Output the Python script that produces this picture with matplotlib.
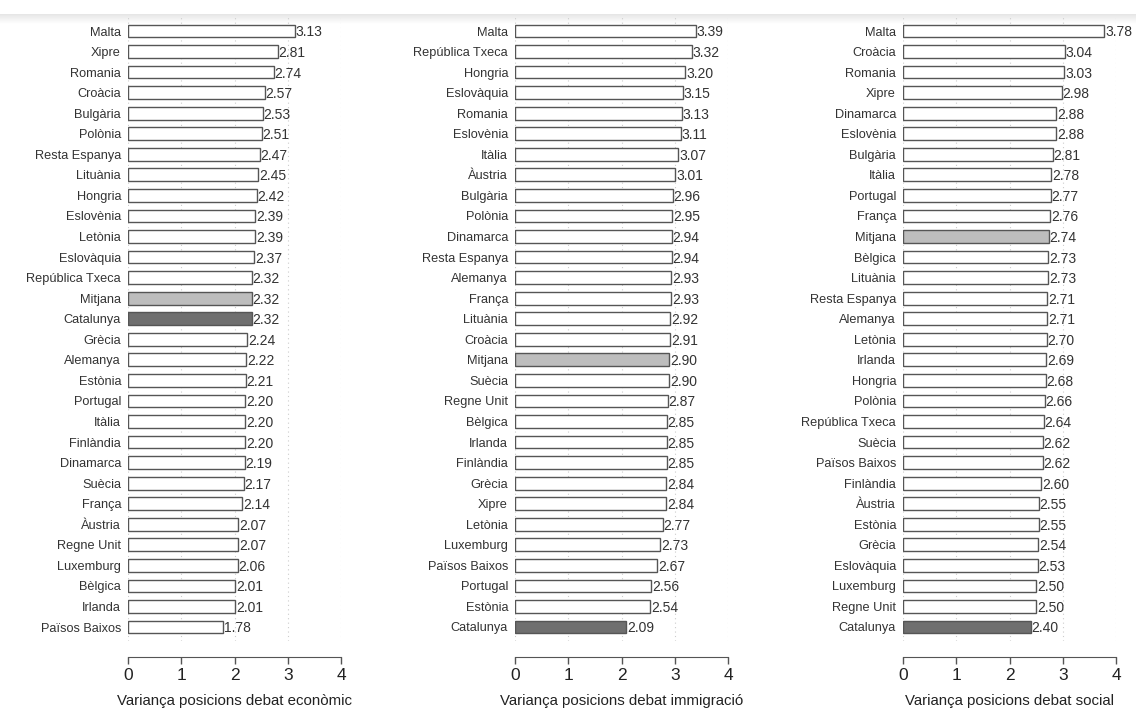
import numpy as np
import matplotlib
matplotlib.use("Agg")
import matplotlib.pyplot as plt

plt.rcParams['font.family'] = ['Liberation Sans', 'DejaVu Sans']

# Variància de posicions per país, tres debats
eco_labels = ['Malta', 'Xipre', 'Romania', 'Croàcia', 'Bulgària', 'Polònia',
              'Resta Espanya', 'Lituània', 'Hongria', 'Eslovènia', 'Letònia',
              'Eslovàquia', 'República Txeca', 'Mitjana', 'Catalunya', 'Grècia',
              'Alemanya', 'Estònia', 'Portugal', 'Itàlia', 'Finlàndia',
              'Dinamarca', 'Suècia', 'França', 'Àustria', 'Regne Unit',
              'Luxemburg', 'Bèlgica', 'Irlanda', 'Països Baixos']
eco_values = [3.13, 2.81, 2.74, 2.57, 2.53, 2.51, 2.47, 2.45, 2.42, 2.39,
              2.39, 2.37, 2.32, 2.32, 2.32, 2.24, 2.22, 2.21, 2.20, 2.20,
              2.20, 2.19, 2.17, 2.14, 2.07, 2.07, 2.06, 2.01, 2.01, 1.78]

imm_labels = ['Malta', 'República Txeca', 'Hongria', 'Eslovàquia', 'Romania',
              'Eslovènia', 'Itàlia', 'Àustria', 'Bulgària', 'Polònia',
              'Dinamarca', 'Resta Espanya', 'Alemanya', 'França', 'Lituània',
              'Croàcia', 'Mitjana', 'Suècia', 'Regne Unit', 'Bèlgica',
              'Irlanda', 'Finlàndia', 'Grècia', 'Xipre', 'Letònia',
              'Luxemburg', 'Països Baixos', 'Portugal', 'Estònia', 'Catalunya']
imm_values = [3.39, 3.32, 3.20, 3.15, 3.13, 3.11, 3.07, 3.01, 2.96, 2.95,
              2.94, 2.94, 2.93, 2.93, 2.92, 2.91, 2.90, 2.90, 2.87, 2.85,
              2.85, 2.85, 2.84, 2.84, 2.77, 2.73, 2.67, 2.56, 2.54, 2.09]

soc_labels = ['Malta', 'Croàcia', 'Romania', 'Xipre', 'Dinamarca', 'Eslovènia',
              'Bulgària', 'Itàlia', 'Portugal', 'França', 'Mitjana', 'Bèlgica',
              'Lituània', 'Resta Espanya', 'Alemanya', 'Letònia', 'Irlanda',
              'Hongria', 'Polònia', 'República Txeca', 'Suècia',
              'Països Baixos', 'Finlàndia', 'Àustria', 'Estònia', 'Grècia',
              'Eslovàquia', 'Luxemburg', 'Regne Unit', 'Catalunya']
soc_values = [3.78, 3.04, 3.03, 2.98, 2.88, 2.88, 2.81, 2.78, 2.77, 2.76,
              2.74, 2.73, 2.73, 2.71, 2.71, 2.70, 2.69, 2.68, 2.66, 2.64,
              2.62, 2.62, 2.60, 2.55, 2.55, 2.54, 2.53, 2.50, 2.50, 2.40]

panels = [
    (eco_labels, eco_values, 'Variança posicions debat econòmic', 128),
    (imm_labels, imm_values, 'Variança posicions debat immigració', 515),
    (soc_labels, soc_values, 'Variança posicions debat social', 903),
]

W, H = 1136, 711
fig = plt.figure(figsize=(W / 100, H / 100), dpi=100)

# ombra suau a la part superior
shade = fig.add_axes([0, 1 - 24 / H, 1, 10 / H], zorder=-1)
grad = np.linspace(0.90, 1.0, 50).reshape(-1, 1)
shade.imshow(grad, aspect='auto', cmap='gray', vmin=0, vmax=1,
             extent=[0, 1, 0, 1])
shade.axis('off')

fill_colors = {'Mitjana': '#bdbdbd', 'Catalunya': '#6f6f6f'}
row_px = (627 - 31) / 29
top_px = 31 - 0.75 * row_px
bot_px = 627 + 0.7 * row_px

for labels, values, xlabel, x0 in panels:
    ax = fig.add_axes([x0 / W, 1 - bot_px / H, 213 / W, (bot_px - top_px) / H])
    ax.patch.set_alpha(0)
    y = np.arange(len(labels))
    colors = [fill_colors.get(l, 'white') for l in labels]
    ax.barh(y, values, height=0.62, color=colors, edgecolor='#555555',
            linewidth=1.0, zorder=3)
    for yi, v in zip(y, values):
        ax.text(v + 0.015, yi, f'{v:.2f}', va='center_baseline', ha='left',
                fontsize=10, color='#333333', zorder=4)
    ax.set_xlim(0, 4)
    ax.set_ylim(len(labels) - 0.3, -0.75)
    ax.set_yticks(y)
    ax.set_yticklabels(labels, fontsize=9.2, color='#333333',
                       va='center_baseline')
    ax.tick_params(axis='y', length=0, pad=5)
    ax.set_xticks([0, 1, 2, 3, 4])
    ax.tick_params(axis='x', length=5, width=1, color='#555555',
                   labelsize=12.5, labelcolor='#222222', pad=3)
    ax.grid(axis='x', color='#cccccc', linestyle=(0, (1, 3)), linewidth=0.8,
            zorder=0)
    for s in ['top', 'right', 'left']:
        ax.spines[s].set_visible(False)
    ax.spines['bottom'].set_position(('outward', 11))
    ax.spines['bottom'].set_bounds(0, 4)
    ax.spines['bottom'].set_color('#555555')
    ax.set_xlabel(xlabel, fontsize=10.8, color='#222222', labelpad=8)

fig.savefig('out.png', dpi=100, facecolor='white')
